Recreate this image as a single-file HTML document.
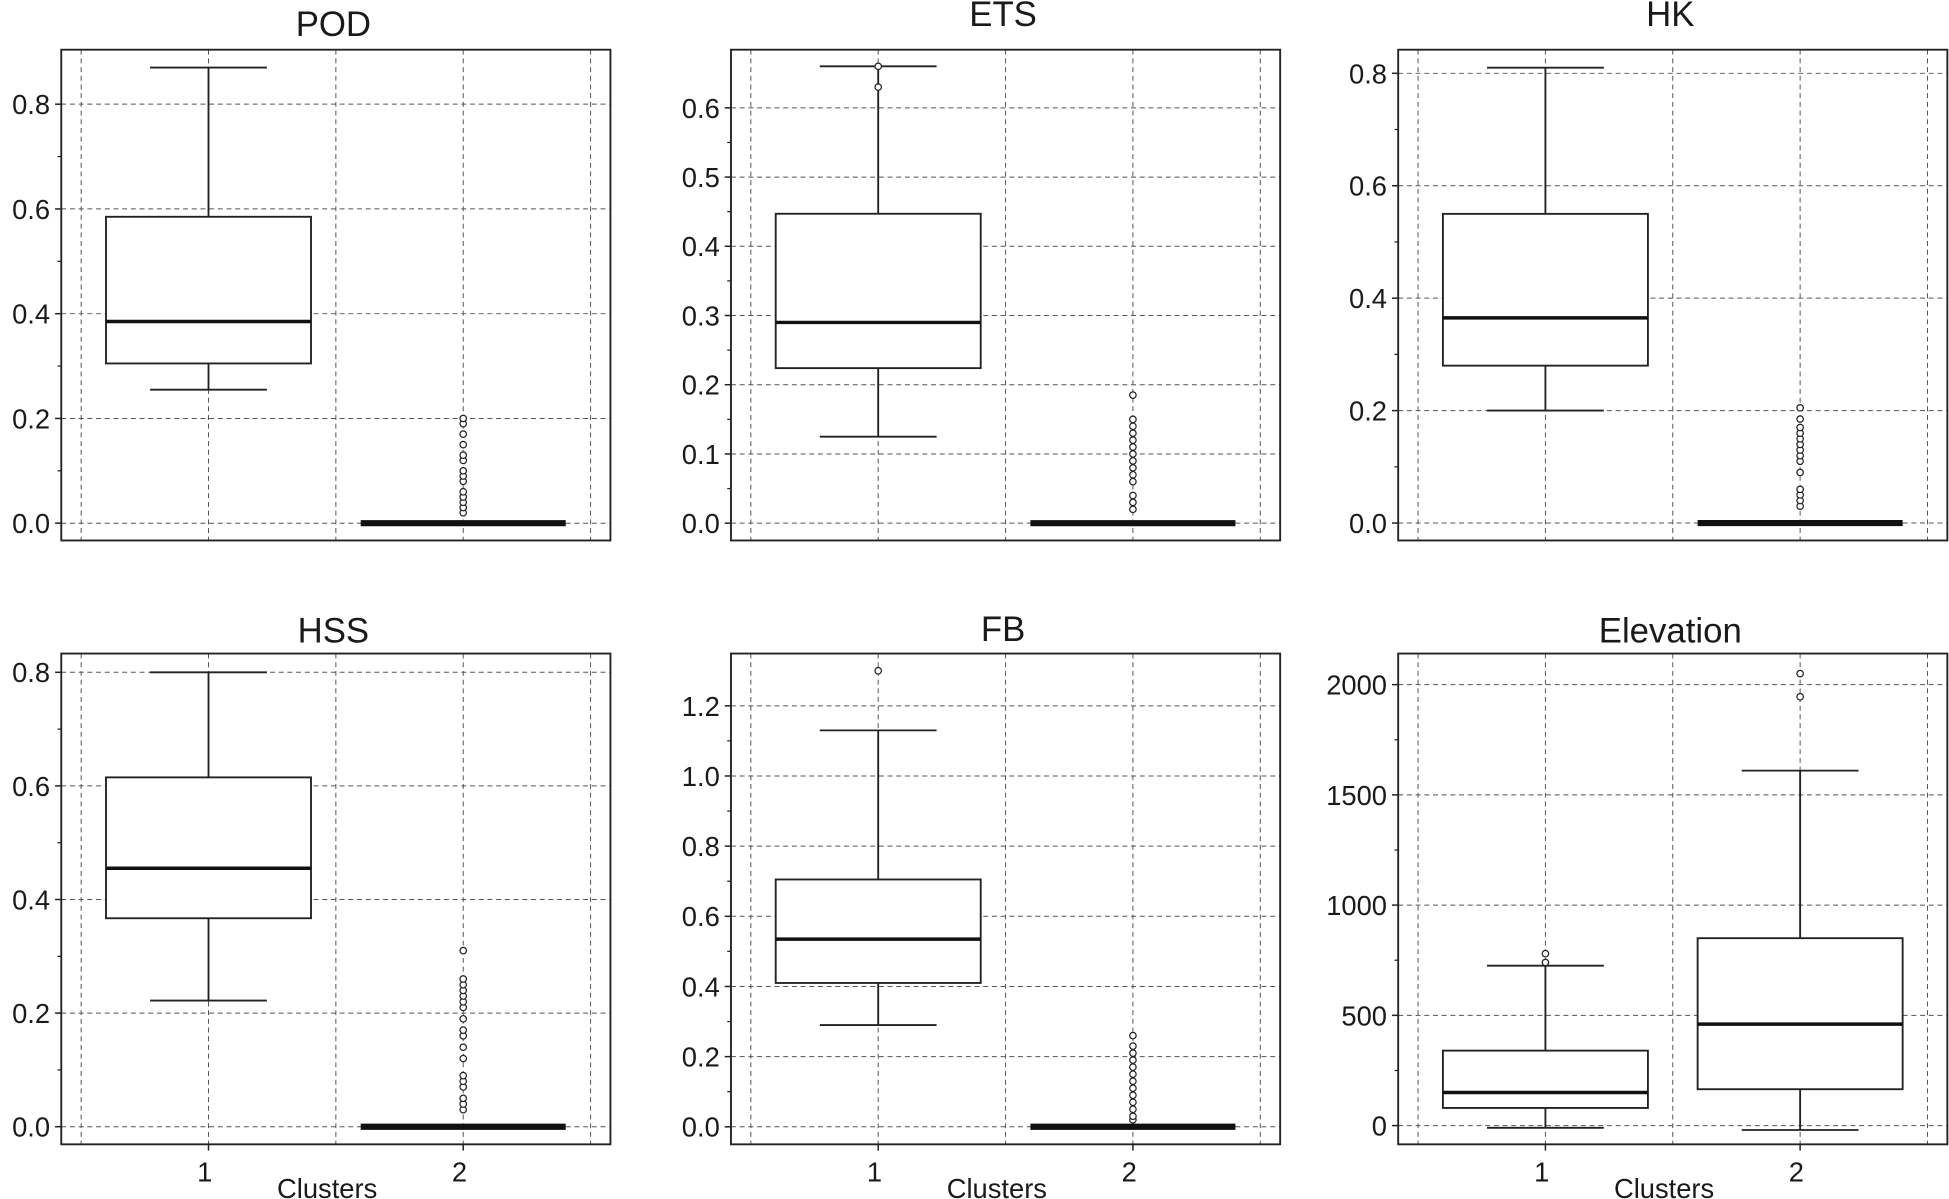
<!DOCTYPE html>
<html><head><meta charset="utf-8"><style>
html,body{margin:0;padding:0;background:#fff;}
svg{display:block;font-family:"Liberation Sans",Arial,sans-serif;}
</style></head><body>
<svg id="c" width="1949" height="1199" viewBox="0 0 1568 965"></svg>
<script>
const titles=["POD","ETS","HK","HSS","FB","Elevation"];
const domains=[[-0.033,0.904],[-0.025,0.684],[-0.031,0.842],[-0.031,0.833],[-0.05,1.349],[-85,2141]];
const ticks=[[0,0.2,0.4,0.6,0.8],[0,0.1,0.2,0.3,0.4,0.5,0.6],[0,0.2,0.4,0.6,0.8],[0,0.2,0.4,0.6,0.8],[0,0.2,0.4,0.6,0.8,1.0,1.2],[0,500,1000,1500,2000]];
const tickLabels=[["0.0","0.2","0.4","0.6","0.8"],["0.0","0.1","0.2","0.3","0.4","0.5","0.6"],["0.0","0.2","0.4","0.6","0.8"],["0.0","0.2","0.4","0.6","0.8"],["0.0","0.2","0.4","0.6","0.8","1.0","1.2"],["0","500","1000","1500","2000"]];
// [low whisker, Q1, median, Q3, high whisker] for cluster 1 and cluster 2
const cluster1=[[0.255,0.305,0.385,0.585,0.87],[0.125,0.224,0.29,0.447,0.66],[0.2,0.28,0.365,0.55,0.81],[0.222,0.367,0.455,0.615,0.8],[0.29,0.41,0.535,0.705,1.13],[-10,80,150,340,725]];
const cluster2=[[0,0,0,0,0],[0,0,0,0,0],[0,0,0,0,0],[0,0,0,0,0],[0,0,0,0,0],[-20,165,460,850,1610]];
const outliers1=[[],[0.63,0.66],[],[],[1.3],[740,780]];
const outliers2=[[0.02,0.03,0.04,0.05,0.06,0.08,0.09,0.1,0.12,0.13,0.15,0.17,0.19,0.2],
[0.02,0.03,0.04,0.06,0.07,0.08,0.09,0.1,0.11,0.12,0.13,0.14,0.15,0.185],
[0.03,0.04,0.05,0.06,0.09,0.11,0.12,0.13,0.14,0.15,0.16,0.17,0.185,0.205],
[0.03,0.04,0.05,0.07,0.08,0.09,0.12,0.14,0.16,0.17,0.19,0.21,0.22,0.23,0.24,0.25,0.26,0.31],
[0.02,0.03,0.05,0.07,0.09,0.11,0.13,0.15,0.17,0.19,0.21,0.23,0.26],
[1945,2050]];
const categories=["1","2"];

const svg=document.getElementById('c');
const NS='http://www.w3.org/2000/svg';
function mk(tag,attrs,parent){const e=document.createElementNS(NS,tag);for(const k in attrs)e.setAttribute(k,attrs[k]);(parent||svg).appendChild(e);return e;}
const lefts=[49,588,1125],tops=[40,526],W=442,H=395;
const titleY=[29,21,21,517,516,517];
for(let p=0;p<6;p++){
  const L=lefts[p%3],T=tops[Math.floor(p/3)],R=L+W,B=T+H;
  const g=mk('g',{});
  
  
  const [d0,d1]=domains[p];
  const y=v=>B-(v-d0)/(d1-d0)*H;
  const xg=i=>L+16+i*(W-32)/4;
  const cx=[xg(1),xg(3)];
  for(let i=0;i<5;i++){const l=mk('line',{x1:xg(i),x2:xg(i),y1:T,y2:B,stroke:'#555','stroke-width':0.8,'stroke-dasharray':'4,3'},g);
    }
  ticks[p].forEach((t,i)=>{
    const yy=y(t);
    const l=mk('line',{x1:L,x2:R,y1:yy,y2:yy,stroke:'#555','stroke-width':0.8,'stroke-dasharray':'4,3'},g);
    
    mk('line',{x1:L-5,x2:L,y1:yy,y2:yy,stroke:'#222','stroke-width':1.2},g);
    const tx=mk('text',{x:L-9,y:yy+8,'text-anchor':'end','font-size':22,fill:'#1a1a1a'},g);
    tx.textContent=tickLabels[p][i];
    
    if(i<ticks[p].length-1){const m=y((t+ticks[p][i+1])/2);mk('line',{x1:L-3,x2:L,y1:m,y2:m,stroke:'#222','stroke-width':1},g);}
  });
  const fr=mk('rect',{x:L,y:T,width:W,height:H,fill:'none',stroke:'#222','stroke-width':1.5},g);
  
  const tt=mk('text',{x:L+W/2-2,y:titleY[p],'text-anchor':'middle','font-size':28,fill:'#1a1a1a'},g);
  tt.textContent=titles[p];
  
  [cluster1[p],cluster2[p]].forEach((s,ci)=>{
    const x=cx[ci],hw=82.5,cw=47;
    const bg=mk('g',{},g);
    
    
    if(s[3]-s[1]===0){
      mk('line',{x1:x-hw,x2:x+hw,y1:y(s[2]),y2:y(s[2]),stroke:'#111','stroke-width':5},bg);
    } else {
      mk('line',{x1:x,x2:x,y1:y(s[4]),y2:y(s[3]),stroke:'#222','stroke-width':1.5},bg);
      mk('line',{x1:x,x2:x,y1:y(s[1]),y2:y(s[0]),stroke:'#222','stroke-width':1.5},bg);
      mk('line',{x1:x-cw,x2:x+cw,y1:y(s[4]),y2:y(s[4]),stroke:'#222','stroke-width':1.5},bg);
      mk('line',{x1:x-cw,x2:x+cw,y1:y(s[0]),y2:y(s[0]),stroke:'#222','stroke-width':1.5},bg);
      mk('rect',{x:x-hw,y:y(s[3]),width:2*hw,height:y(s[1])-y(s[3]),fill:'#fff',stroke:'#222','stroke-width':1.5},bg);
      mk('line',{x1:x-hw,x2:x+hw,y1:y(s[2]),y2:y(s[2]),stroke:'#111','stroke-width':2.8},bg);
    }
    (ci===0?outliers1[p]:outliers2[p]).forEach(v=>{
      const c=mk('circle',{cx:x,cy:y(v),r:2.6,fill:'#fff',stroke:'#222','stroke-width':1},bg);
      
    });
  });
  if(p>=3){
    categories.forEach((c,ci)=>{
      mk('line',{x1:cx[ci],x2:cx[ci],y1:B,y2:B+5,stroke:'#222','stroke-width':1.2},g);
      const t=mk('text',{x:cx[ci]-3,y:B+30,'text-anchor':'middle','font-size':22,fill:'#1a1a1a'},g);
      t.textContent=c;
      
    });
    const xl=mk('text',{x:L+W/2-7,y:B+43,'text-anchor':'middle','font-size':22,fill:'#1a1a1a'},g);
    xl.textContent='Clusters';
    
  }
}
</script>
</body></html>
